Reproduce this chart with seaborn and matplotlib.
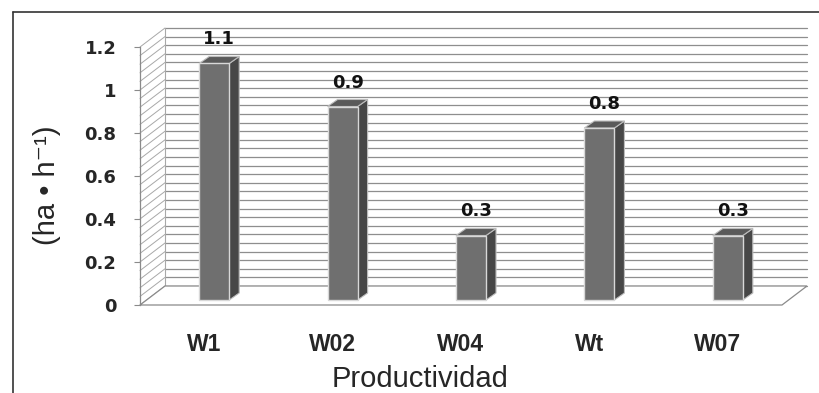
import numpy as np
import matplotlib
matplotlib.use("Agg")
import matplotlib.pyplot as plt
import matplotlib.transforms as mtransforms
from matplotlib.patches import Polygon
from matplotlib.lines import Line2D
import seaborn as sns

# data
categories = ["W1", "W02", "W04", "Wt", "W07"]
values = [1.1, 0.9, 0.3, 0.8, 0.3]
y_ticks = [0, 0.2, 0.4, 0.6, 0.8, 1, 1.2]
y_tick_labels = ["0", "0.2", "0.4", "0.6", "0.8", "1", "1.2"]
x_title = "Productividad"
y_title = "(ha • h⁻¹)"

sns.set_style("white")
plt.rcParams["font.family"] = ["Liberation Sans", "DejaVu Sans"]

W, H, dpi = 819, 393, 100
fig = plt.figure(figsize=(W / dpi, H / dpi), dpi=dpi)
fig.patch.set_facecolor("white")

# front plane of the fake 3d box
ax = fig.add_axes([140 / W, 88 / H, 642 / W, 258 / H])
ax.set_facecolor("none")

front_col = "#6f6f6f"
side_col = "#474747"
top_col = "#5a5a5a"
grid_col = "#8e8e8e"

sns.barplot(x=categories, y=values, color=front_col, width=0.234,
            edgecolor="#d8d8d8", linewidth=1.0, saturation=1, ax=ax, zorder=5)

ax.set_xlim(-0.5, 4.5)
ax.set_ylim(0, 1.2)

# pixels per data unit
sx = 642 / 5
sy = 258 / 1.2

# back wall offset
bdx, bdy = 25 / sx, 19 / sy
grid_vals = np.arange(0, 1.2001, 0.04)
for v in grid_vals:
    ax.plot([-0.5 + bdx, 4.5 + bdx], [v + bdy, v + bdy], color=grid_col,
            lw=0.9, clip_on=False, zorder=1)
    ax.plot([-0.5, -0.5 + bdx], [v, v + bdy], color="#a8a8a8",
            lw=0.7, clip_on=False, zorder=1)
ax.plot([-0.5 + bdx, -0.5 + bdx], [bdy, 1.2 + bdy], color="#a8a8a8",
        lw=0.8, clip_on=False, zorder=1)

# floor
floor = Polygon([(-0.5, 0), (4.5, 0), (4.5 + bdx, bdy), (-0.5 + bdx, bdy)],
                closed=True, facecolor="white", edgecolor="#8a8a8a", lw=0.9,
                clip_on=False, zorder=2)
ax.add_patch(floor)

# bars sit a bit behind the front plane
shift = mtransforms.ScaledTranslation(10 / dpi, 5 / dpi, fig.dpi_scale_trans)
ddx, ddy = 10 / sx, 7 / sy
for p in list(ax.patches):
    if p is floor:
        continue
    p.set_transform(ax.transData + shift)
    p.set_clip_on(False)
    x0 = p.get_x()
    x1 = x0 + p.get_width()
    h = p.get_height()
    side = Polygon([(x1, 0), (x1 + ddx, ddy), (x1 + ddx, h + ddy), (x1, h)],
                   closed=True, facecolor=side_col, edgecolor="#bdbdbd", lw=0.8,
                   transform=ax.transData + shift, clip_on=False, zorder=4)
    top = Polygon([(x0, h), (x1, h), (x1 + ddx, h + ddy), (x0 + ddx, h + ddy)],
                  closed=True, facecolor=top_col, edgecolor="#bdbdbd", lw=0.8,
                  transform=ax.transData + shift, clip_on=False, zorder=4)
    ax.add_patch(side)
    ax.add_patch(top)

for i, v in enumerate(values):
    ax.annotate(f"{v}", xy=(i, v), xytext=(15, 5 + 7 + 8),
                textcoords="offset pixels", ha="center", va="bottom",
                fontsize=13, fontweight="bold", color="#111111", zorder=6,
                family="DejaVu Sans")

# axes cosmetics
for s in ["top", "right", "bottom"]:
    ax.spines[s].set_visible(False)
ax.spines["left"].set_color("#8a8a8a")
ax.spines["left"].set_linewidth(0.9)
ax.set_yticks(y_ticks)
ax.set_yticklabels(y_tick_labels, fontsize=13, fontweight="bold", family="DejaVu Sans")
ax.tick_params(axis="y", length=4, width=0.8, color="#8a8a8a", pad=13, left=True)
ax.tick_params(axis="x", length=0, pad=20, labelsize=16.5)
for t in ax.get_xticklabels():
    t.set_fontweight("bold")
ax.set_xlabel("")
ax.set_ylabel("")

fig.text(420 / W, 1 - 387 / H, x_title, ha="center", va="baseline", fontsize=21)
fig.text(47 / W, 1 - 185 / H, y_title, ha="center", va="center",
         rotation=90, fontsize=21)

# outer frame lines (top and left)
fig.add_artist(Line2D([13 / W, 1], [1 - 12 / H, 1 - 12 / H], color="#333333", lw=1.2))
fig.add_artist(Line2D([13 / W, 13 / W], [0, 1 - 12 / H], color="#333333", lw=1.2))

fig.savefig("out.png", dpi=dpi)
